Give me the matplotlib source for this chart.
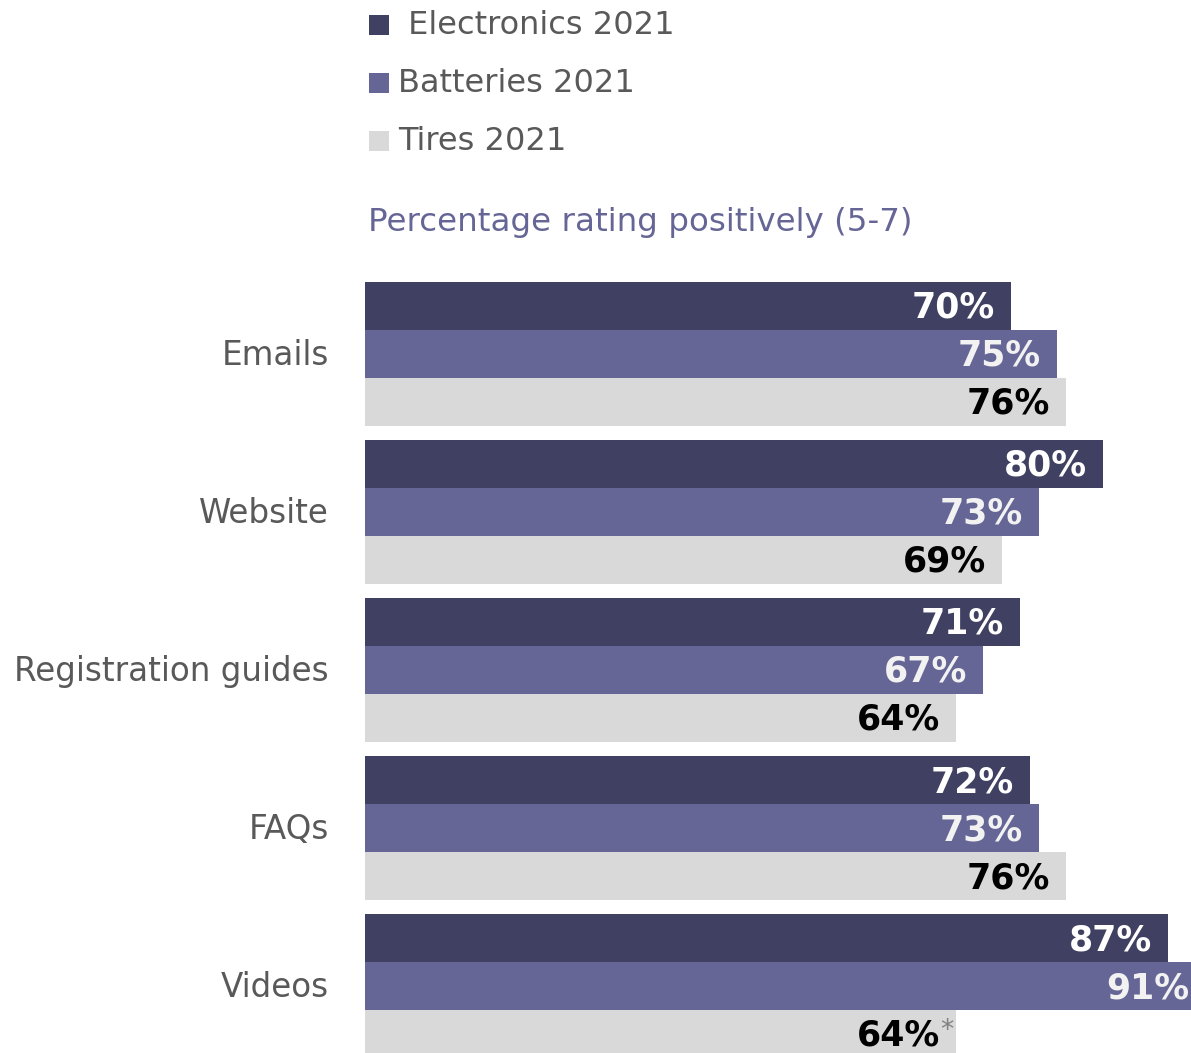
import matplotlib
matplotlib.use("Agg")
import matplotlib.pyplot as plt
from matplotlib.patches import Rectangle
from matplotlib.transforms import ScaledTranslation

plt.rcParams["font.family"] = ["DejaVu Sans"]

# Data
categories = ["Emails", "Website", "Registration guides", "FAQs", "Videos"]
series_names = ["Electronics 2021", "Batteries 2021", "Tires 2021"]
electronics = [70, 80, 71, 72, 87]
batteries = [75, 73, 67, 73, 91]
tires = [76, 69, 64, 76, 64]
flagged = {("Tires 2021", "Videos")}  # values shown with an asterisk

colors = ["#404062", "#666696", "#d9d9d9"]
label_colors = ["#ffffff", "#f2f2f2", "#000000"]
text_grey = "#595959"
title_color = "#666696"

W, H = 1191, 1053
fig = plt.figure(figsize=(W / 100, H / 100), dpi=100)

ax_left, ax_top = 365, 282
ax = fig.add_axes([ax_left / W, 0, (W - ax_left) / W, (H - ax_top) / H])

bar_h = 48 / 158
values = [electronics, batteries, tires]
for k, (name, vals) in enumerate(zip(series_names, values)):
    offset = (k - 1) * bar_h
    ys = [i + offset for i in range(len(categories))]
    ax.barh(ys, vals, height=bar_h, color=colors[k], linewidth=0)
    for y, v, cat in zip(ys, vals, categories):
        ax.annotate(f"{v}%", xy=(v, y), xytext=(-16, -2),
                    textcoords="offset pixels", ha="right", va="center",
                    fontsize=25, fontweight="bold", color=label_colors[k],
                    annotation_clip=False)
        if (name, cat) in flagged:
            ax.annotate("*", xy=(v, y), xytext=(-16, 3),
                        textcoords="offset pixels", ha="left", va="center",
                        fontsize=19, color="#808080", annotation_clip=False)

px_per_unit = 9.23
ax.set_xlim(0, (W - ax_left) / px_per_unit)
ax.set_ylim((H - ax_top - 72) / 158, -1.5 * bar_h)

ax.set_yticks(range(len(categories)))
ax.set_yticklabels(categories, fontsize=23.5, color=text_grey)
ax.tick_params(axis="y", length=0, pad=26)
lift = ScaledTranslation(0, 2 / 100, fig.dpi_scale_trans)
for lbl in ax.get_yticklabels():
    lbl.set_transform(lbl.get_transform() + lift)
ax.set_xticks([])
for s in ax.spines.values():
    s.set_visible(False)

# Legend
leg_rows = [25, 83, 141]
leg_text = [" Electronics 2021", "Batteries 2021", "Tires 2021"]
for yc, c, t in zip(leg_rows, colors, leg_text):
    fig.patches.append(Rectangle((369 / W, 1 - (yc + 10) / H), 20 / W, 20 / H,
                                 transform=fig.transFigure, color=c, linewidth=0))
    fig.text(398 / W, 1 - (yc + 1) / H, t, fontsize=23, color=text_grey,
             ha="left", va="center")

fig.text(368 / W, 1 - 223 / H, "Percentage rating positively (5-7)",
         fontsize=23.4, color=title_color, ha="left", va="center")

fig.savefig("out.png", dpi=100)
